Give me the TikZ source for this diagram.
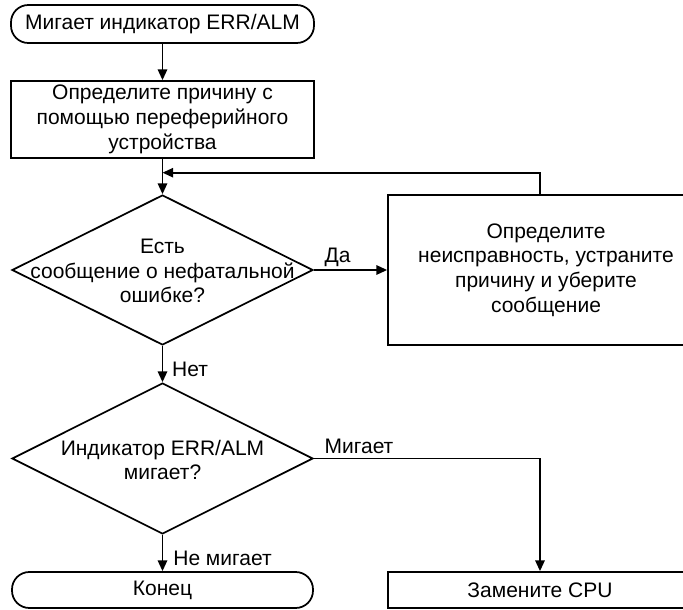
\documentclass[tikz,border=0pt]{standalone}
\usepackage{fontspec}
\setmainfont{Liberation Sans}
\usetikzlibrary{shapes.geometric,arrows.meta,calc}
\begin{document}
\begin{tikzpicture}[x=0.75pt,y=-0.75pt,
  font=\fontsize{15.75}{18.6}\selectfont,
  base/.style={draw=black,line width=1.3pt,inner sep=0pt,align=center},
  term/.style={base,rectangle,rounded corners=13pt},
  proc/.style={base,rectangle},
  dec/.style={base,diamond},
  txt/.style={inner sep=0pt,align=center},
  arr/.style={line width=1.3pt,-{Triangle[length=8pt,width=7pt]}},
  ln/.style={line width=1.3pt}]
\useasboundingbox (0,0) rectangle (683,610);
\node[term,minimum width=227.25pt,minimum height=28.5pt] (start) at (162.5,24) {Мигает индикатор ERR/ALM};
\node[proc,minimum width=227.25pt,minimum height=57.75pt] (box1) at (162.5,119.5) {Определите причину с\\помощью переферийного\\устройства};
\node[dec,minimum width=225.75pt,minimum height=112.5pt] (d1) at (162.5,270) {};
\node[txt] (d1t) at (162.5,271) {Есть\\сообщение о нефатальной\\ошибке?};
\node[proc,minimum width=237pt,minimum height=112.5pt] (fix) at (546,270) {Определите\\неисправность, устраните\\причину и уберите\\сообщение};
\node[dec,minimum width=225.75pt,minimum height=113.25pt] (d2) at (162.5,458.5) {};
\node[txt] (d2t) at (162.5,460) {Индикатор ERR/ALM\\мигает?};
\node[term,minimum width=225.75pt,minimum height=27pt] (end) at (162.5,590) {Конец};
\node[proc,minimum width=228pt,minimum height=27pt] (cpu) at (540,590) {Замените CPU};
\coordinate (fb) at (540,172.7);
\draw[arr] (start) -- (box1);
\draw[arr] (box1) -- (d1);
\draw[arr] (fb |- fix.north) -- (fb) -- (fb -| box1.south);
\draw[arr] (d1.east) -- (fix.west);
\node[txt] (lyes) at (337.5,257) {Да};
\draw[arr] (d1.south) -- (d2.north);
\node[txt] (lno) at (190,369) {Нет};
\draw[arr] (d2.east) -| (cpu.north);
\node[txt] (lblink) at (359,446) {Мигает};
\draw[arr] (d2.south) -- (end.north);
\node[txt] (lnoblink) at (222.5,558) {Не мигает};
\end{tikzpicture}
\end{document}
